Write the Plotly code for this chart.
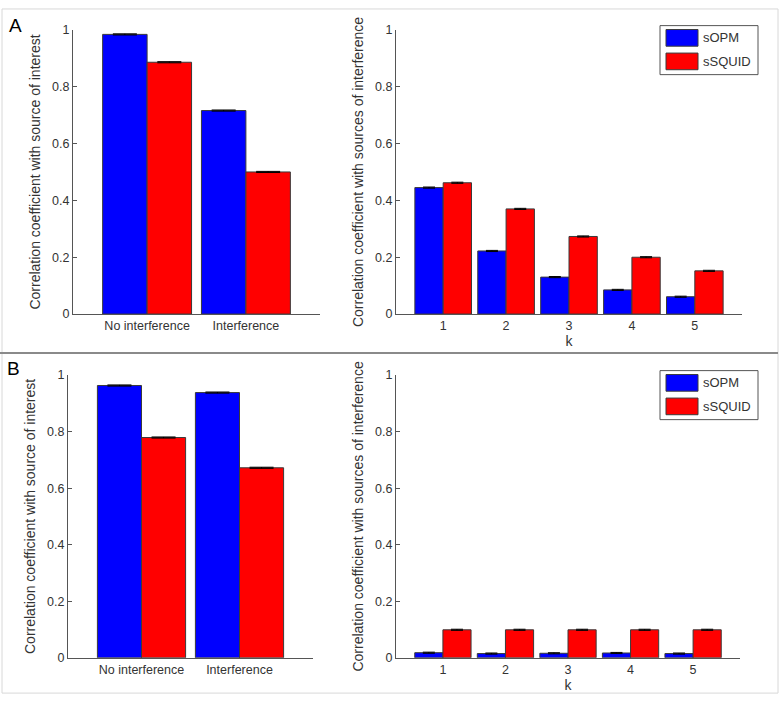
import plotly.graph_objects as go

# ---- data ----
groups_left = ["No interference", "Interference"]
k_values = [1, 2, 3, 4, 5]
series_names = ["sOPM", "sSQUID"]

A_left_sopm = [0.984, 0.716]
A_left_ssquid = [0.886, 0.500]
A_right_sopm = [0.445, 0.222, 0.130, 0.085, 0.061]
A_right_ssquid = [0.462, 0.370, 0.273, 0.200, 0.152]

B_left_sopm = [0.963, 0.938]
B_left_ssquid = [0.779, 0.672]
B_right_sopm = [0.018, 0.015, 0.016, 0.017, 0.015]
B_right_ssquid = [0.099, 0.099, 0.099, 0.099, 0.099]

err_small = 0.002
y_ticks = [0, 0.2, 0.4, 0.6, 0.8, 1]
y_ticktext = ["0", "0.2", "0.4", "0.6", "0.8", "1"]

W, H = 781, 704
BLUE, RED = "#0000FF", "#FF0000"
FONT = "Liberation Sans, Arial, sans-serif"


def px_x(p):
    return p / W


def px_y(p):
    return 1 - p / H


fig = go.Figure()


def add_pair(xvals, sopm, ssquid, xa, ya, capw):
    for name, vals, col in ((series_names[0], sopm, BLUE), (series_names[1], ssquid, RED)):
        fig.add_trace(go.Bar(
            x=xvals, y=vals, name=name, showlegend=False,
            marker=dict(color=col, line=dict(color="#3a3a3a", width=1)),
            error_y=dict(type="data", array=[err_small] * len(vals), color="black",
                         thickness=1, width=capw),
            xaxis=xa, yaxis=ya, offsetgroup=name,
        ))


left_pos = [1, 2]
add_pair(left_pos, A_left_sopm, A_left_ssquid, "x", "y", 12)
add_pair(k_values, A_right_sopm, A_right_ssquid, "x2", "y2", 6)
add_pair(left_pos, B_left_sopm, B_left_ssquid, "x3", "y3", 12)
add_pair(k_values, B_right_sopm, B_right_ssquid, "x4", "y4", 6)

axis_line = "#555555"
tickfont = dict(family=FONT, size=12.5, color="#333333")
titlefont = dict(family=FONT, size=14, color="#333333")


def yax(dom, title, anchor):
    return dict(domain=dom, range=[0, 1], tickvals=y_ticks, ticktext=y_ticktext,
                ticks="inside", ticklen=4, tickcolor=axis_line, showline=True,
                linecolor=axis_line, linewidth=1, showgrid=False, zeroline=False,
                tickfont=tickfont, anchor=anchor, fixedrange=True,
                title=dict(text=title, font=titlefont, standoff=8))


def xax(dom, rng, tickvals, ticktext, anchor, title=None):
    d = dict(domain=dom, range=rng, tickvals=tickvals, ticktext=ticktext,
             ticks="", showline=True, linecolor=axis_line, linewidth=1,
             showgrid=False, zeroline=False, tickfont=tickfont, anchor=anchor)
    if title:
        d["title"] = dict(text=title, font=titlefont, standoff=0)
    return d


yA = [px_y(313.3), px_y(23.3)]
yB = [px_y(664.0), px_y(375.5)]

fig.update_layout(
    width=W, height=H, margin=dict(l=0, r=0, t=0, b=0),
    paper_bgcolor="white", plot_bgcolor="white",
    barmode="group", bargap=0.1, bargroupgap=0,
    xaxis=xax([px_x(73), px_x(320)], [0.25, 2.75], left_pos, groups_left, "y"),
    yaxis=yax(yA, "Correlation coefficient with source of interest", "x"),
    xaxis2=xax([px_x(396), px_x(742)], [0.25, 5.75], k_values, [str(k) for k in k_values], "y2", "k"),
    yaxis2=yax(yA, "Correlation coefficient with sources of interference", "x2"),
    xaxis3=xax([px_x(68), px_x(313)], [0.25, 2.75], left_pos, groups_left, "y3"),
    yaxis3=yax(yB, "Correlation coefficient with source of interest", "x3"),
    xaxis4=xax([px_x(396), px_x(740)], [0.25, 5.75], k_values, [str(k) for k in k_values], "y4", "k"),
    yaxis4=yax(yB, "Correlation coefficient with sources of interference", "x4"),
    font=dict(family=FONT),
)

shapes = []
annotations = []
# outer frame and separator
shapes.append(dict(type="rect", xref="paper", yref="paper", x0=px_x(2), x1=px_x(778),
                   y0=px_y(700), y1=px_y(2), line=dict(color="#d8d8d8", width=1)))
shapes.append(dict(type="line", xref="paper", yref="paper", x0=0, x1=px_x(778),
                   y0=px_y(353), y1=px_y(353), line=dict(color="#8a8a8a", width=2)))

# panel letters
annotations.append(dict(text="A", x=px_x(7), y=px_y(6), xref="paper", yref="paper",
                        xanchor="left", yanchor="top", showarrow=False,
                        font=dict(family=FONT, size=19, color="black")))
annotations.append(dict(text="B", x=px_x(5), y=px_y(356), xref="paper", yref="paper",
                        xanchor="left", yanchor="top", showarrow=False,
                        font=dict(family=FONT, size=19, color="black")))


# legends (drawn as boxes)
def legend_box(top):
    x0, x1 = 660, 758
    shapes.append(dict(type="rect", xref="paper", yref="paper", x0=px_x(x0), x1=px_x(x1),
                       y0=px_y(top + 50), y1=px_y(top), line=dict(color="#555555", width=1),
                       fillcolor="white"))
    for i, (name, col) in enumerate(zip(series_names, (BLUE, RED))):
        py0 = top + 4 + i * 24
        shapes.append(dict(type="rect", xref="paper", yref="paper", x0=px_x(666), x1=px_x(698),
                           y0=px_y(py0 + 17), y1=px_y(py0), fillcolor=col,
                           line=dict(color="#3a3a3a", width=1)))
        annotations.append(dict(text=name, x=px_x(701), y=px_y(py0 + 8.5), xref="paper",
                                yref="paper", xanchor="left", yanchor="middle", showarrow=False,
                                font=dict(family=FONT, size=13, color="#333333")))


legend_box(19)
legend_box(371)

fig.update_layout(shapes=shapes, annotations=annotations)
fig.write_html("out.html", config={"displayModeBar": False},
               post_script="document.body.style.margin='0';document.body.style.padding='0';")
